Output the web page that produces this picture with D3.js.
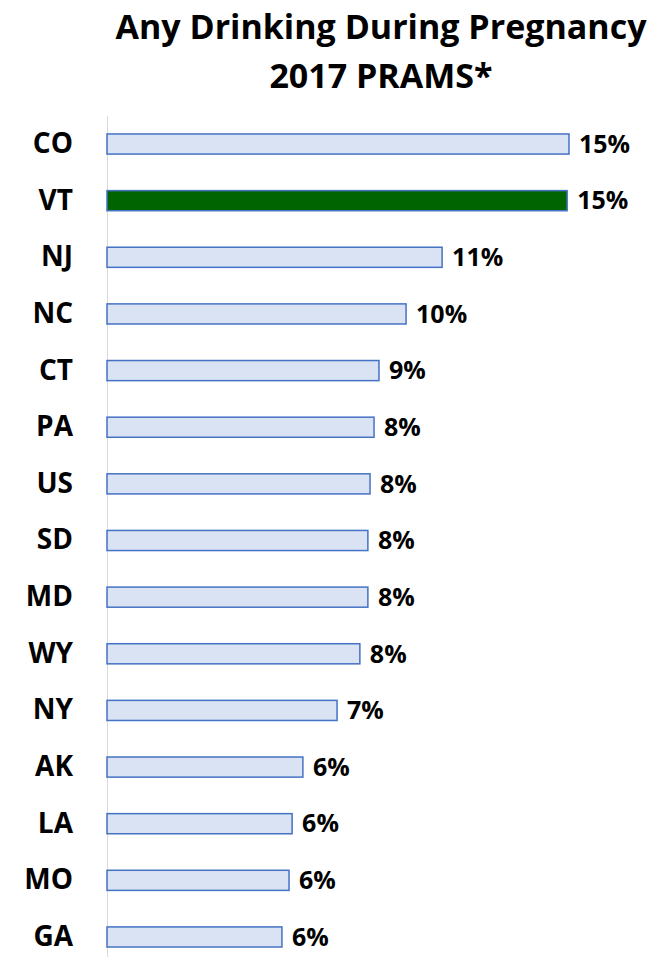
<!DOCTYPE html>
<html>
<head>
<meta charset="utf-8">
<title>Any Drinking During Pregnancy</title>
<script src="https://cdn.jsdelivr.net/npm/d3@7"></script>
<style>
  body { margin: 0; background: #fff; }
  text { font-family: "Open Sans", "Noto Sans", sans-serif; font-weight: bold; fill: #000; }
</style>
</head>
<body>
<div id="chart"></div>
<script>
// Data
const states = ['CO', 'VT', 'NJ', 'NC', 'CT', 'PA', 'US', 'SD', 'MD', 'WY', 'NY', 'AK', 'LA', 'MO', 'GA'];
const values = [15.0, 14.94, 10.88, 9.71, 8.83, 8.67, 8.54, 8.47, 8.47, 8.21, 7.47, 6.36, 6.01, 5.91, 5.68];
const valueLabels = ['15%', '15%', '11%', '10%', '9%', '8%', '8%', '8%', '8%', '8%', '7%', '6%', '6%', '6%', '6%'];
const highlight = 'VT';
const titleLines = ['Any Drinking During Pregnancy', '2017 PRAMS*'];

const width = 654;
const height = 957;
const axisX = 107;

const data = states.map((s, i) => ({ state: s, value: values[i], label: valueLabels[i] }));

const svg = d3.select('#chart')
  .append('svg')
  .attr('width', width)
  .attr('height', height);

// Title
svg.append('g')
  .selectAll('text')
  .data(titleLines)
  .enter()
  .append('text')
  .attr('x', 381)
  .attr('y', (d, i) => 39 + i * 49)
  .attr('text-anchor', 'middle')
  .style('font-size', '34px')
  .text(d => d);

// Scales
const x = d3.scaleLinear()
  .domain([0, 15])
  .range([axisX, axisX + 462]);

const y = d3.scaleBand()
  .domain(states)
  .range([115.7, 965.3])
  .paddingInner(0.645)
  .paddingOuter(0.3225);

// Category axis
const yAxis = svg.append('g')
  .attr('transform', `translate(${axisX},0)`)
  .call(d3.axisLeft(y).tickSize(0).tickPadding(34));

yAxis.select('.domain')
  .attr('stroke', '#d9d9d9')
  .attr('stroke-width', 1);

yAxis.selectAll('text')
  .attr('fill', '#000')
  .style('font-family', '"Open Sans", sans-serif')
  .style('font-weight', 'bold')
  .style('font-size', '28px');

// Bars
svg.append('g')
  .selectAll('rect')
  .data(data)
  .enter()
  .append('rect')
  .attr('x', x(0))
  .attr('y', d => y(d.state))
  .attr('width', d => x(d.value) - x(0))
  .attr('height', y.bandwidth())
  .attr('fill', d => d.state === highlight ? '#006400' : '#dae3f3')
  .attr('stroke', '#4472c4')
  .attr('stroke-width', 1.5);

// Value labels
svg.append('g')
  .selectAll('text')
  .data(data)
  .enter()
  .append('text')
  .attr('x', d => x(d.value) + 10)
  .attr('y', d => y(d.state) + y.bandwidth() / 2)
  .attr('dy', '0.35em')
  .style('font-size', '25px')
  .text(d => d.label);
</script>
</body>
</html>
